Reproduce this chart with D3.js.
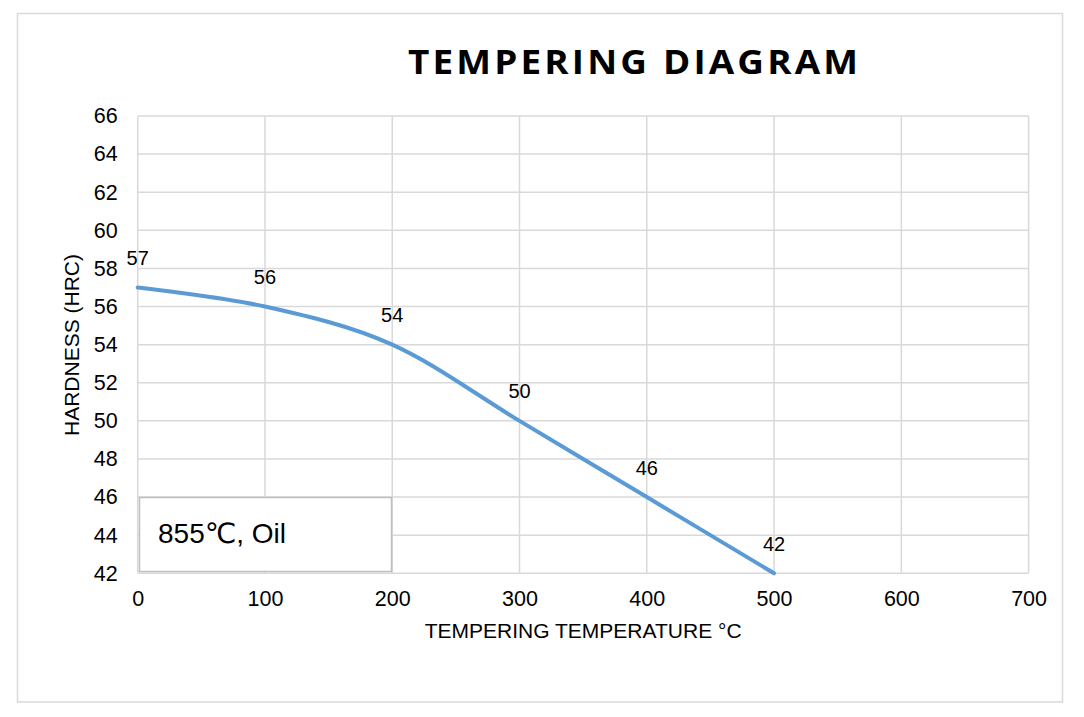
<!DOCTYPE html>
<html>
<head>
<meta charset="utf-8">
<script src="https://cdn.jsdelivr.net/npm/d3@7"></script>
<style>
  html, body { margin: 0; padding: 0; background: #fff; }
  svg { display: block; }
</style>
</head>
<body>
<svg id="chart" width="1084" height="717"></svg>
<script>
// ---- data ----
const temperatures = [0, 100, 200, 300, 400, 500];
const hardness = [57, 56, 54, 50, 46, 42];
const xTicks = [0, 100, 200, 300, 400, 500, 600, 700];
const yTicks = [42, 44, 46, 48, 50, 52, 54, 56, 58, 60, 62, 64, 66];
const titleText = "TEMPERING DIAGRAM";
const xTitle = "TEMPERING TEMPERATURE °C";
const yTitle = "HARDNESS (HRC)";
const legendText = "855℃, Oil";

const svg = d3.select("#chart");
const font = "'Liberation Sans', Arial, 'DejaVu Sans', sans-serif";
const gridColor = "#d9d9d9";

// outer border
svg.append("rect")
  .attr("x", 17.5).attr("y", 13.5)
  .attr("width", 1045).attr("height", 688.5)
  .attr("fill", "#fff").attr("stroke", gridColor).attr("stroke-width", 1.5);

const plot = { left: 137.7, right: 1028.6, top: 116, bottom: 573.3 };

const x = d3.scaleLinear().domain([0, 700]).range([plot.left, plot.right]);
const y = d3.scaleLinear().domain([42, 66]).range([plot.bottom, plot.top]);

// gridlines
const grid = svg.append("g");
grid.selectAll("line.h").data(yTicks).join("line")
  .attr("x1", plot.left).attr("x2", plot.right)
  .attr("y1", d => y(d)).attr("y2", d => y(d))
  .attr("stroke", gridColor).attr("stroke-width", 1.5);
grid.selectAll("line.v").data(xTicks).join("line")
  .attr("y1", plot.top).attr("y2", plot.bottom)
  .attr("x1", d => x(d)).attr("x2", d => x(d))
  .attr("stroke", gridColor).attr("stroke-width", 1.5);

// axes (labels only)
const yAxis = d3.axisLeft(y).tickValues(yTicks).tickSize(0).tickPadding(20).tickFormat(d3.format("d"));
const gy = svg.append("g").attr("transform", `translate(${plot.left},0)`).call(yAxis);
gy.select(".domain").remove();
gy.selectAll("text").attr("font-family", font).attr("font-size", 21.5).attr("fill", "#000");

const xAxis = d3.axisBottom(x).tickValues(xTicks).tickSize(0).tickPadding(17).tickFormat(d3.format("d"));
const gx = svg.append("g").attr("transform", `translate(0,${plot.bottom})`).call(xAxis);
gx.select(".domain").remove();
gx.selectAll("text").attr("font-family", font).attr("font-size", 21.5).attr("fill", "#000");

// line
const pts = temperatures.map((t, i) => [t, hardness[i]]);
const line = d3.line()
  .x(d => x(d[0])).y(d => y(d[1]))
  .curve(d3.curveCardinal.tension(0));
svg.append("path")
  .attr("d", line(pts))
  .attr("fill", "none")
  .attr("stroke", "#5b9bd5")
  .attr("stroke-width", 4)
  .attr("stroke-linecap", "round");

// data labels
svg.append("g").selectAll("text").data(pts).join("text")
  .attr("x", d => x(d[0]))
  .attr("y", d => y(d[1]) - 22.5)
  .attr("text-anchor", "middle")
  .attr("font-family", font).attr("font-size", 20).attr("fill", "#000")
  .text(d => d[1]);

// legend box
svg.append("rect")
  .attr("x", 139.5).attr("y", 497.5)
  .attr("width", 252).attr("height", 74)
  .attr("fill", "#fff").attr("stroke", "#bfbfbf").attr("stroke-width", 1.5);
svg.append("text")
  .attr("x", 158).attr("y", 543)
  .attr("font-family", "'Liberation Sans', Arial, 'DejaVu Sans', 'Noto Sans CJK SC', sans-serif")
  .attr("font-size", 28).attr("fill", "#000")
  .text(legendText);

// title (slightly widened, letter-spaced to span ~450px)
const sx = 1.1;
const titleG = svg.append("g").attr("transform", `translate(633,74) scale(${sx},1)`);
const title = titleG.append("text")
  .attr("x", 0).attr("y", 0)
  .attr("text-anchor", "middle")
  .attr("font-family", "'Open Sans', 'Noto Sans', sans-serif")
  .attr("font-weight", 700)
  .attr("font-size", 33.5)
  .attr("fill", "#000")
  .text(titleText);
const baseLen = title.node().getComputedTextLength();
const n = titleText.length;
const ls = Math.max(0, (450 / sx - baseLen) / (n - 1));
title.attr("letter-spacing", ls).attr("x", ls / 2);

// axis titles
svg.append("text")
  .attr("x", (plot.left + plot.right) / 2).attr("y", 638)
  .attr("text-anchor", "middle")
  .attr("font-family", font).attr("font-size", 21).attr("fill", "#000")
  .text(xTitle);
svg.append("text")
  .attr("transform", "translate(79,345) rotate(-90)")
  .attr("text-anchor", "middle")
  .attr("font-family", font).attr("font-size", 21).attr("fill", "#000")
  .text(yTitle);
</script>
</body>
</html>
